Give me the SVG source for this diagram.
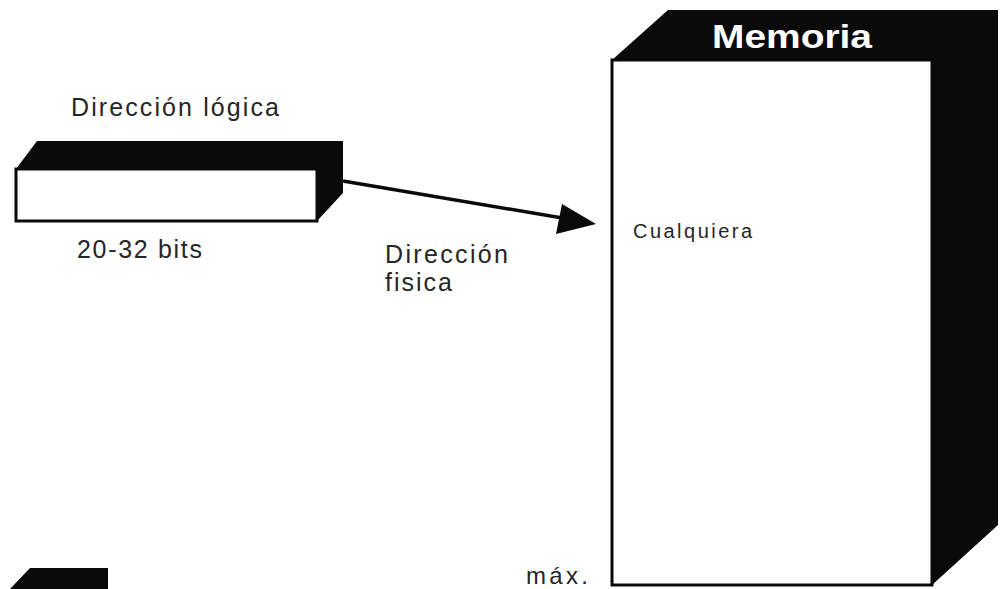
<svg xmlns="http://www.w3.org/2000/svg" width="1008" height="589" viewBox="0 0 1008 589">
  <defs>
    <style>
      .solid { fill: #0a0a0a; }
      .face { fill: #ffffff; stroke: #0a0a0a; stroke-width: 3; }
      .lbl { font-family: "Liberation Sans", Arial, sans-serif; fill: #262626; }
      .title { font-family: "Liberation Sans", Arial, sans-serif; font-weight: bold; fill: #ffffff; }
    </style>
  </defs>

  <rect width="1008" height="589" fill="#ffffff"/>

  <!-- logical address register -->
  <g id="logical-address">
    <polygon class="solid" points="16,169 37,141 343,141 343,193 317,221 317,169"/>
    <rect class="face" x="16" y="169" width="301" height="52"/>
    <text class="lbl" x="71" y="116" font-size="25" textLength="208" lengthAdjust="spacing">Dirección lógica</text>
    <text class="lbl" x="77" y="258" font-size="25" textLength="125" lengthAdjust="spacing">20-32 bits</text>
  </g>

  <!-- memory block -->
  <g id="memory">
    <polygon class="solid" points="612,60 668,10 998,10 998,525 932,585 932,60"/>
    <rect class="face" x="612" y="60" width="320" height="525"/>
    <text class="title" x="712" y="48" font-size="34" textLength="160" lengthAdjust="spacingAndGlyphs">Memoria</text>
    <text class="lbl" x="633" y="238" font-size="20" textLength="119" lengthAdjust="spacing">Cualquiera</text>
    <text class="lbl" x="526" y="584" font-size="24" textLength="62" lengthAdjust="spacing">máx.</text>
  </g>

  <!-- partial block at lower left -->
  <g id="corner-block">
    <polygon class="solid" points="30,568 108,568 108,589 10,589"/>
  </g>

  <!-- connectors -->
  <g id="connectors">
    <line x1="343" y1="181" x2="580" y2="221" stroke="#0a0a0a" stroke-width="3.5"/>
    <polygon class="solid" points="596,224 562,204 556,234"/>
    <text class="lbl" x="385" y="263" font-size="25" textLength="123" lengthAdjust="spacing">Dirección</text>
    <text class="lbl" x="385" y="291" font-size="25" textLength="67" lengthAdjust="spacing">fisica</text>
  </g>
</svg>
